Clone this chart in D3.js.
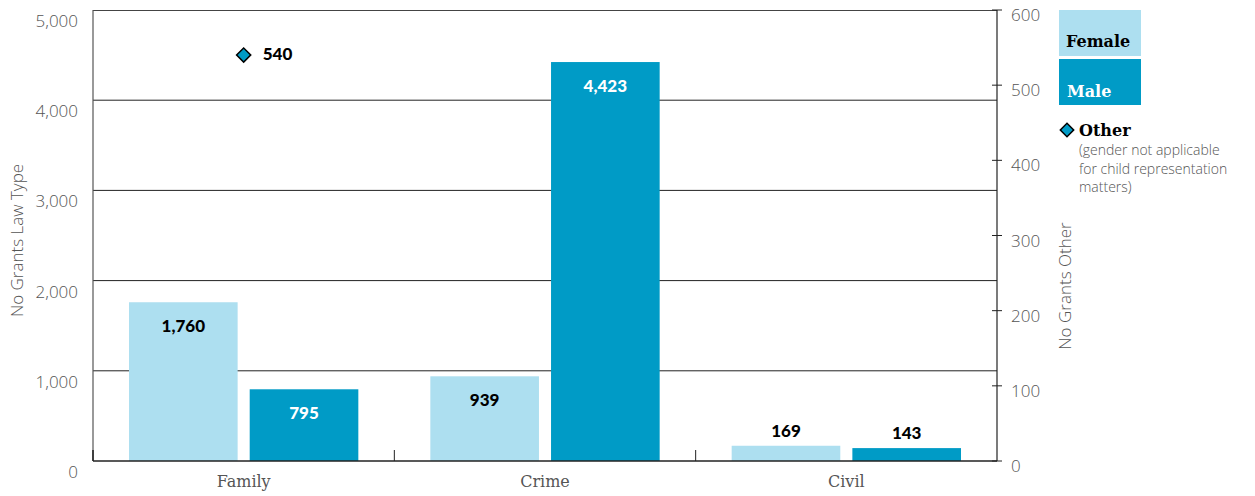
<!DOCTYPE html>
<html><head><meta charset="utf-8">
<script src="https://cdn.jsdelivr.net/npm/d3@7"></script>
<style>body{margin:0;background:#fff}svg{display:block}</style>
</head><body>
<svg id="c" width="1255" height="496"></svg>
<script>
const categories = ["Family", "Crime", "Civil"];
const female = [1760, 939, 169];
const male = [795, 4423, 143];
const other = [540, null, null];
const leftTicks = [0, 1000, 2000, 3000, 4000, 5000];
const rightTicks = [0, 100, 200, 300, 400, 500, 600];

const svg = d3.select("#c");
const L = 93, R = 997, T = 10, B = 461;
const cFemale = "#addff0", cMale = "#009bc6";
const bold = "Lato, 'Open Sans', sans-serif";
const light = "'Open Sans', sans-serif";
const serif = "'DejaVu Serif', serif";

const x = d3.scaleBand().domain(categories).range([L, R]).paddingInner(0).paddingOuter(0);
const sub = d3.scaleBand().domain(["Female", "Male"]).range([36, x.bandwidth() - 36]).paddingInner(0.1);
const yL = d3.scaleLinear().domain([0, 5000]).range([B, T]);
const yR = d3.scaleLinear().domain([0, 600]).range([B, T]);

// gridlines
svg.append("g").selectAll("line").data(leftTicks.filter(d => d > 0 && d < 5000)).join("line")
  .attr("x1", L).attr("x2", R).attr("y1", d => yL(d)).attr("y2", d => yL(d))
  .attr("stroke", "#222").attr("stroke-width", 1);
svg.append("line").attr("x1", L).attr("x2", R).attr("y1", T + 0.5).attr("y2", T + 0.5).attr("stroke", "#444");

// bars
const rows = categories.map((c, i) => ({c, f: female[i], m: male[i], o: other[i]}));
const g = svg.append("g");
rows.forEach(r => {
  [["Female", r.f, cFemale], ["Male", r.m, cMale]].forEach(([k, v, col]) => {
    const bx = x(r.c) + sub(k);
    g.append("rect").attr("x", bx).attr("width", sub.bandwidth())
      .attr("y", yL(v)).attr("height", B - yL(v)).attr("fill", col);
    const inside = (B - yL(v)) > 40;
    g.append("text").attr("x", bx + sub.bandwidth() / 2)
      .attr("y", inside ? yL(v) + 30 : yL(v) - 9)
      .attr("text-anchor", "middle").attr("font-family", bold).attr("font-weight", 900)
      .attr("font-size", 17)
      .attr("fill", inside && k === "Male" ? "#fff" : "#000")
      .text(d3.format(",")(v));
  });
});

// left axis
svg.append("line").attr("x1", L).attr("x2", L).attr("y1", T).attr("y2", B).attr("stroke", "#555").attr("stroke-width", 1.2);
svg.append("g").selectAll("text").data(leftTicks).join("text")
  .attr("x", 78).attr("y", d => yL(d) + 17).attr("text-anchor", "end")
  .attr("font-family", light).attr("font-weight", 300).attr("font-size", 17).attr("fill", "#555")
  .text(d => d3.format(",")(d));

// right axis
svg.append("line").attr("x1", R).attr("x2", R).attr("y1", T).attr("y2", B).attr("stroke", "#222").attr("stroke-width", 1.2);
svg.append("g").selectAll("line").data(rightTicks).join("line")
  .attr("x1", R - 5).attr("x2", R + 5).attr("y1", d => yR(d)).attr("y2", d => yR(d)).attr("stroke", "#222");
svg.append("g").selectAll("text").data(rightTicks).join("text")
  .attr("x", 1011).attr("y", d => yR(d) + 11)
  .attr("font-family", light).attr("font-weight", 300).attr("font-size", 17).attr("fill", "#555")
  .text(d => d);

// bottom axis
svg.append("line").attr("x1", L).attr("x2", R).attr("y1", B).attr("y2", B).attr("stroke", "#222").attr("stroke-width", 1.5);
svg.append("g").selectAll("line").data(categories.slice(1)).join("line")
  .attr("x1", d => x(d)).attr("x2", d => x(d)).attr("y1", B - 11).attr("y2", B).attr("stroke", "#222");
svg.append("line").attr("x1", L).attr("x2", L).attr("y1", B - 11).attr("y2", B).attr("stroke", "#222").attr("stroke-width", 1.5);
svg.append("g").selectAll("text").data(categories).join("text")
  .attr("x", d => x(d) + x.bandwidth() / 2).attr("y", 487).attr("text-anchor", "middle")
  .attr("font-family", serif).attr("font-weight", 300).attr("font-size", 16).attr("fill", "#555")
  .text(d => d);

// other diamonds
rows.filter(r => r.o != null).forEach(r => {
  const cx = x(r.c) + x.bandwidth() / 2, cy = yR(r.o);
  svg.append("path").attr("d", d3.symbol(d3.symbolSquare, 100)())
    .attr("transform", `translate(${cx},${cy}) rotate(45)`)
    .attr("fill", cMale).attr("stroke", "#000").attr("stroke-width", 1.5);
  svg.append("text").attr("x", cx + 19).attr("y", cy + 5)
    .attr("font-family", bold).attr("font-weight", 900).attr("font-size", 17).attr("fill", "#000")
    .text(r.o);
});

// axis titles
svg.append("text").attr("transform", `translate(23,${(T + B) / 2 + 5}) rotate(-90)`)
  .attr("text-anchor", "middle").attr("font-family", light).attr("font-weight", 300)
  .attr("font-size", 17).attr("fill", "#555").text("No Grants Law Type");
svg.append("text").attr("transform", `translate(1071,286) rotate(-90)`)
  .attr("text-anchor", "middle").attr("font-family", light).attr("font-weight", 300)
  .attr("font-size", 17).attr("fill", "#555").text("No Grants Other");

// legend
const lg = svg.append("g");
lg.append("rect").attr("x", 1059).attr("y", 10).attr("width", 82).attr("height", 46).attr("fill", cFemale);
lg.append("rect").attr("x", 1059).attr("y", 59).attr("width", 82).attr("height", 46).attr("fill", cMale);
lg.append("text").attr("x", 1066).attr("y", 47).attr("font-family", serif).attr("font-weight", 700)
  .attr("font-size", 16).attr("fill", "#000").text("Female");
lg.append("text").attr("x", 1067).attr("y", 97).attr("font-family", serif).attr("font-weight", 700)
  .attr("font-size", 16).attr("fill", "#fff").text("Male");
lg.append("path").attr("d", d3.symbol(d3.symbolSquare, 90)())
  .attr("transform", "translate(1067,130) rotate(45)")
  .attr("fill", cMale).attr("stroke", "#000").attr("stroke-width", 1.5);
lg.append("text").attr("x", 1079).attr("y", 136).attr("font-family", serif).attr("font-weight", 700)
  .attr("font-size", 16).attr("fill", "#000").text("Other");
["(gender not applicable", "for child representation", "matters)"].forEach((t, i) => {
  lg.append("text").attr("x", 1079).attr("y", 155 + i * 18.5).attr("font-family", light).attr("font-weight", 300)
    .attr("font-size", 14).attr("fill", "#555").text(t);
});
</script>
</body></html>
